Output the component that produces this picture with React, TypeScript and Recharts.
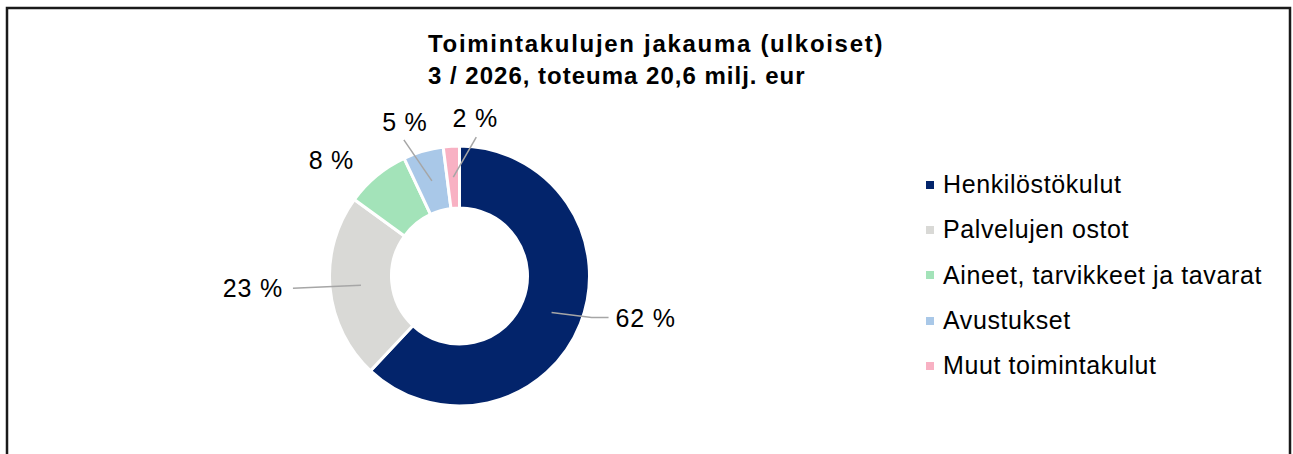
import { PieChart, Pie, Cell, Legend } from 'recharts';

const categories = [
  'Henkilöstökulut',
  'Palvelujen ostot',
  'Aineet, tarvikkeet ja tavarat',
  'Avustukset',
  'Muut toimintakulut',
];
const shares = [62, 23, 8, 5, 2];
const colors = ['#03246b', '#d9d9d6', '#a3e3b9', '#a9c8e8', '#f8b1c3'];

const titleLines = ['Toimintakulujen jakauma (ulkoiset)', '3 / 2026, toteuma 20,6 milj. eur'];
const titleSpacing = [1.7, 1.0];

const data = categories.map((name, i) => ({ name, value: shares[i] }));

// label placement relative to the slice's mid-ring point: [lineEnd dx, dy, text dx, dy, anchor, line]
const labelLayout: Array<[number, number, number, number, 'start' | 'middle' | 'end', boolean]> = [
  [57, 5, 64, 6, 'start', true],
  [-68, 3, -78, 3, 'end', true],
  [0, 0, -65, -40, 'middle', false],
  [-28, -41, -27, -59, 'middle', true],
  [23, -40, 22, -59, 'middle', true],
];

const RAD = Math.PI / 180;
const FONT = '"Liberation Sans", Arial, sans-serif';

function renderLabel(props: any) {
  const { cx, cy, midAngle, innerRadius, outerRadius, percent, index } = props;
  const r = (innerRadius + outerRadius) / 2;
  const x = cx + r * Math.cos(-midAngle * RAD);
  const y = cy + r * Math.sin(-midAngle * RAD);
  const [lx, ly, tx, ty, anchor, line] = labelLayout[index];
  let path = `M${x},${y} L${x + lx},${y + ly}`;
  if (index === 0) path = `M${x},${y} L${x + 40},${y + 5} L${x + lx},${y + ly}`;
  return (
    <g key={`lbl-${index}`}>
      {line && <path d={path} stroke="#a6a6a6" strokeWidth={1.5} fill="none" />}
      <text
        x={x + tx}
        y={y + ty}
        textAnchor={anchor}
        dominantBaseline="central"
        fontSize={25}
        letterSpacing={0.8}
        fontFamily={FONT}
        fill="#000"
      >
        {`${Math.round(percent * 100)} %`}
      </text>
    </g>
  );
}

function renderLegend() {
  return (
    <div style={{ fontFamily: FONT, fontSize: 25, letterSpacing: 0.6, color: '#000' }}>
      {categories.map((c, i) => (
        <div key={c} style={{ display: 'flex', alignItems: 'center', height: 45.3 }}>
          <span
            style={{ width: 8, height: 8, background: colors[i], marginRight: 9, display: 'inline-block' }}
          />
          <span>{c}</span>
        </div>
      ))}
    </div>
  );
}

export default function App() {
  return (
    <div
      style={{
        position: 'fixed',
        left: 0,
        top: 0,
        width: 1293,
        height: 454,
        overflow: 'hidden',
        background: '#fff',
      }}
    >
      <div
        style={{
          position: 'absolute',
          left: 428,
          top: 28,
          fontFamily: FONT,
          fontWeight: 'bold',
          fontSize: 24,
          lineHeight: '32px',
          color: '#000',
          whiteSpace: 'nowrap',
        }}
      >
        {titleLines.map((t, i) => (
          <div key={t} style={{ letterSpacing: titleSpacing[i] }}>
            {t}
          </div>
        ))}
      </div>
      <div style={{ position: 'absolute', left: 0, top: 0 }}>
        <PieChart width={1293} height={454} margin={{ top: 0, right: 0, bottom: 0, left: 0 }}>
          <Pie
            data={data}
            dataKey="value"
            nameKey="name"
            cx={459.5}
            cy={276}
            innerRadius={68}
            outerRadius={130}
            startAngle={90}
            endAngle={-270}
            stroke="#fff"
            strokeWidth={3}
            label={renderLabel}
            labelLine={false}
            isAnimationActive={false}
          >
            {data.map((d, i) => (
              <Cell key={d.name} fill={colors[i]} />
            ))}
          </Pie>
          <Legend
            content={renderLegend}
            wrapperStyle={{ left: 926, top: 162, width: 360, bottom: 'auto' }}
          />
        </PieChart>
      </div>
      <svg
        width={1293}
        height={454}
        style={{ position: 'absolute', left: 0, top: 0, zIndex: 5, pointerEvents: 'none' }}
      >
        <path d="M7,460 L7,8 L1290,8 L1290,460" fill="none" stroke="#1a1a1a" strokeWidth={2.5} />
      </svg>
    </div>
  );
}
